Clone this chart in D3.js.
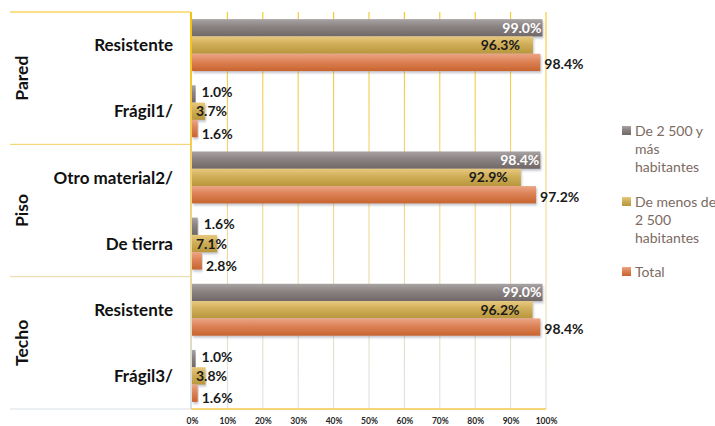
<!DOCTYPE html>
<html>
<head>
<meta charset="utf-8">
<script src="https://cdn.jsdelivr.net/npm/d3@7"></script>
<style>
  body { margin: 0; background: #fff; }
  svg { display: block; font-family: Lato, "Open Sans", sans-serif; }
</style>
</head>
<body>
<div id="chart"></div>
<script>
// data
const groups = ["Pared", "Piso", "Techo"];
const categories = ["Resistente", "Frágil1/", "Otro material2/", "De tierra", "Resistente", "Frágil3/"];
const categoryGroup = ["Pared", "Pared", "Piso", "Piso", "Techo", "Techo"];
const seriesNames = ["De 2 500 y más habitantes", "De menos de 2 500 habitantes", "Total"];
const legendLines = [["De 2 500 y", "más", "habitantes"], ["De menos de", "2 500", "habitantes"], ["Total"]];
const urbano = [99.0, 1.0, 98.4, 1.6, 99.0, 1.0];
const rural = [96.3, 3.7, 92.9, 7.1, 96.2, 3.8];
const total = [98.4, 1.6, 97.2, 2.8, 98.4, 1.6];
const xTicks = [0, 10, 20, 30, 40, 50, 60, 70, 80, 90, 100];

const width = 715;
const height = 426;
const margin = { left: 192, right: 169, top: 12, bottom: 17 };
const plotW = width - margin.left - margin.right;
const plotH = height - margin.top - margin.bottom;

const svg = d3.select("#chart").append("svg")
    .attr("width", width)
    .attr("height", height);

const defs = svg.append("defs");

// bar fills, light on top, darker below
const barColors = [
    ["#a9a3a3", "#8a8282", "#716767"],
    ["#e8c97e", "#cfae58", "#b8963c"],
    ["#eca585", "#dc8256", "#c8642e"]
];
barColors.forEach((c, i) => {
    const grad = defs.append("linearGradient")
        .attr("id", "bar" + i)
        .attr("x1", 0).attr("y1", 0).attr("x2", 0).attr("y2", 1);
    grad.append("stop").attr("offset", "0%").attr("stop-color", c[0]);
    grad.append("stop").attr("offset", "45%").attr("stop-color", c[1]);
    grad.append("stop").attr("offset", "100%").attr("stop-color", c[2]);
});

// grid lines go from gold at the top to pale blue at the bottom
const gridGrad = defs.append("linearGradient")
    .attr("id", "gridGrad")
    .attr("gradientUnits", "userSpaceOnUse")
    .attr("x1", 0).attr("y1", margin.top).attr("x2", 0).attr("y2", margin.top + plotH);
gridGrad.append("stop").attr("offset", "0%").attr("stop-color", "#f4c20f");
gridGrad.append("stop").attr("offset", "45%").attr("stop-color", "#f1d37a");
gridGrad.append("stop").attr("offset", "100%").attr("stop-color", "#d6e1ee");

const shadow = defs.append("filter").attr("id", "shadow")
    .attr("x", "-5%").attr("y", "-20%").attr("width", "115%").attr("height", "160%");
shadow.append("feDropShadow")
    .attr("dx", 1).attr("dy", 2)
    .attr("stdDeviation", 1.2)
    .attr("flood-color", "#7a8090")
    .attr("flood-opacity", 0.45);

const g = svg.append("g")
    .attr("transform", `translate(${margin.left}, ${margin.top})`);

const xScale = d3.scaleLinear()
    .domain([0, 100])
    .range([0, plotW]);

const yScale = d3.scaleBand()
    .domain(d3.range(categories.length))
    .range([0, plotH])
    .paddingInner(0.215)
    .paddingOuter(0.1075);

const ySub = d3.scaleBand()
    .domain(d3.range(seriesNames.length))
    .range([0, yScale.bandwidth()]);

// vertical grid
g.append("g")
    .selectAll("line")
    .data(xTicks.slice(1))
    .join("line")
    .attr("x1", d => xScale(d))
    .attr("x2", d => xScale(d))
    .attr("y1", 0)
    .attr("y2", plotH)
    .attr("stroke", "url(#gridGrad)")
    .attr("stroke-width", 1);

// group separators on the left
const step = yScale.step();
const sepYs = [0, 2 * step, 4 * step, 6 * step];
g.append("g")
    .selectAll("line")
    .data(sepYs)
    .join("line")
    .attr("x1", -182)
    .attr("x2", -2)
    .attr("y1", d => d)
    .attr("y2", d => d)
    .attr("stroke", "url(#gridGrad)")
    .attr("stroke-width", 1);

const seriesData = [urbano, rural, total];

// bars
seriesData.forEach((vals, s) => {
    g.append("g")
        .selectAll("rect")
        .data(vals)
        .join("rect")
        .attr("x", xScale(0))
        .attr("y", (d, i) => yScale(i) + ySub(s))
        .attr("width", d => xScale(d) - xScale(0))
        .attr("height", ySub.bandwidth())
        .attr("fill", `url(#bar${s})`)
        .attr("filter", "url(#shadow)");
});

// axis lines
g.append("line")
    .attr("x1", -1).attr("x2", -1)
    .attr("y1", 0).attr("y2", plotH)
    .attr("stroke", "url(#gridGrad)")
    .attr("stroke-width", 2);
g.append("line")
    .attr("x1", -1).attr("x2", plotW)
    .attr("y1", plotH).attr("y2", plotH)
    .attr("stroke", "#f5c84c")
    .attr("stroke-width", 1.5);

// x axis labels
const xAxis = g.append("g")
    .attr("transform", `translate(0, ${plotH})`)
    .call(d3.axisBottom(xScale).tickValues(xTicks).tickFormat(d => d + "%").tickSize(0).tickPadding(9));
xAxis.select(".domain").remove();
xAxis.selectAll("text")
    .attr("font-family", "Lato, sans-serif")
    .attr("font-size", "8.5px")
    .attr("font-weight", "bold")
    .attr("fill", "#262626");

// value labels
const fmt = d => d.toFixed(1) + "%";
function labelPos(d, s) {
    const xe = xScale(d);
    if (s === 0) {
        if (d > 50) return { x: xe - 1, anchor: "end", fill: "#ffffff", dy: 0 };
        return { x: xe + 6, anchor: "start", fill: "#1a1a1a", dy: -2 };
    }
    if (s === 1) {
        return { x: Math.max(xe - 13, 35), anchor: "end", fill: "#1a1a1a", dy: 0 };
    }
    return { x: xe + 4, anchor: "start", fill: "#1a1a1a", dy: d > 50 ? 2 : 5 };
}
seriesData.forEach((vals, s) => {
    g.append("g")
        .selectAll("text")
        .data(vals)
        .join("text")
        .attr("x", d => labelPos(d, s).x)
        .attr("y", (d, i) => yScale(i) + ySub(s) + ySub.bandwidth() / 2 + labelPos(d, s).dy)
        .attr("dy", "0.36em")
        .attr("text-anchor", d => labelPos(d, s).anchor)
        .attr("fill", d => labelPos(d, s).fill)
        .attr("font-size", "14px")
        .attr("font-weight", "bold")
        .text(fmt);
});

// category labels
g.append("g")
    .selectAll("text")
    .data(categories)
    .join("text")
    .attr("x", -19)
    .attr("y", (d, i) => yScale(i) + yScale.bandwidth() / 2)
    .attr("dy", "0.36em")
    .attr("text-anchor", "end")
    .attr("font-size", "17px")
    .attr("font-weight", "bold")
    .attr("fill", "#111")
    .text(d => d);

// group labels, rotated
g.append("g")
    .selectAll("text")
    .data(groups)
    .join("text")
    .attr("transform", (d, i) => `translate(-170, ${(2 * i + 1) * step}) rotate(-90)`)
    .attr("dy", "0.36em")
    .attr("text-anchor", "middle")
    .attr("font-size", "17.5px")
    .attr("font-weight", "bold")
    .attr("fill", "#111")
    .text(d => d);

// legend
const legendTop = [131, 202, 272];
const legend = svg.append("g");
legendLines.forEach((lines, i) => {
    legend.append("rect")
        .attr("x", 622)
        .attr("y", legendTop[i] - 5)
        .attr("width", 9)
        .attr("height", 9)
        .attr("fill", `url(#bar${i})`);
    legend.append("text")
        .attr("x", 635)
        .attr("y", legendTop[i])
        .attr("font-size", "14px")
        .attr("fill", "#7b6a62")
        .selectAll("tspan")
        .data(lines)
        .join("tspan")
        .attr("x", 635)
        .attr("dy", (d, j) => j === 0 ? "0.36em" : "18px")
        .text(d => d);
});
</script>
</body>
</html>
